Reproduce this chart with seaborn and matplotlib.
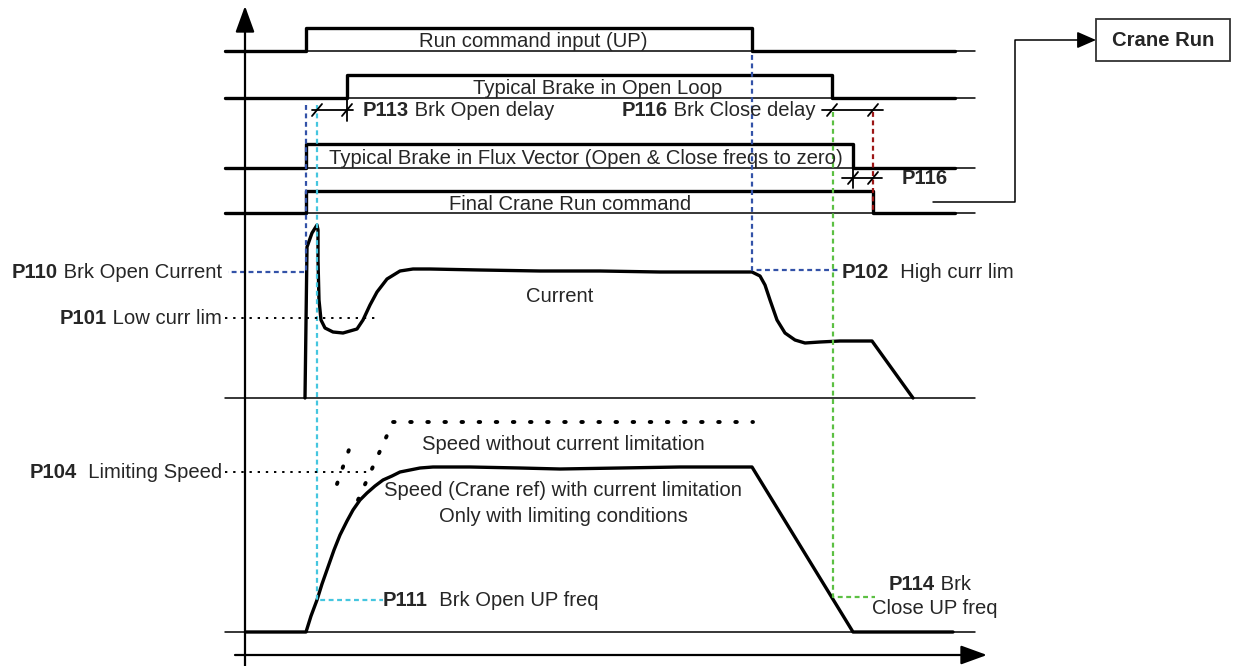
import numpy as np
import pandas as pd
import matplotlib
matplotlib.use("Agg")
import matplotlib.pyplot as plt
import seaborn as sns

# ---- data (time axis in drawing units, left -> right) ----
signal_names = [
    "Run command input (UP)",
    "Typical Brake in Open Loop",
    "Typical Brake in Flux Vector (Open & Close freqs to zero)",
    "Final Crane Run command",
]
signal_rise = [306, 347, 306, 306]
signal_fall = [752, 832, 853, 873]

current_t = [305, 307, 312, 317, 318, 318, 319, 321, 325, 333, 343, 357, 363, 370, 377,
             387, 400, 413, 430, 480, 540, 600, 660, 720, 752, 760, 765, 770, 777,
             785, 795, 805, 820, 840, 872, 913]
current_v = [398, 247, 233, 225, 230, 260, 300, 320, 328, 332, 333, 329, 320, 305, 292,
             279, 271, 269, 269, 270, 271, 271, 272, 272, 272, 276, 285, 300, 320,
             333, 340, 343, 342, 341, 341, 398]

speed_t = [246, 306, 311, 317, 322, 328, 334, 340, 347, 353, 360, 367, 375, 383, 392,
           400, 410, 420, 433, 470, 520, 560, 620, 680, 752, 853, 953]
speed_v = [632, 632, 616, 600, 584, 567, 550, 535, 521, 510, 500, 493, 486, 480, 476,
           472, 470, 468, 467, 467, 468, 469, 468, 467, 467, 632, 632]

free_speed_t = [358, 393, 753]
free_speed_v = [500, 422, 422]
limit_ramp_t = [337, 352]
limit_ramp_v = [484, 441]

# ---- figure ----
sns.set_theme(style="white")
plt.rcParams["font.family"] = ["Liberation Sans", "DejaVu Sans"]
plt.rcParams["font.size"] = 14.6

fig = plt.figure(figsize=(12.35, 6.66), dpi=100)
ax = fig.add_axes([0, 0, 1, 1])
ax.set_xlim(0, 1235)
ax.set_ylim(666, 0)
ax.axis("off")
renderer = fig.canvas.get_renderer()

BLUE = "#3352a8"
CYAN = "#45c6df"
GREEN = "#5cc043"
RED = "#9c1616"

row_base = [51, 98, 168, 213]
row_high = [28, 75, 144, 191]
text_x = [533, 598, 586, 570]

# digital signals
for i, name in enumerate(signal_names):
    b, h = row_base[i], row_high[i]
    ax.plot([225, 975], [b, b], color="black", lw=1.1)
    step = pd.DataFrame({
        "t": [225, signal_rise[i], signal_rise[i], signal_fall[i], signal_fall[i], 955],
        "v": [b, b, h, h, b, b],
    })
    sns.lineplot(data=step, x="t", y="v", sort=False, estimator=None,
                 color="black", lw=2.4, ax=ax)
    ax.text(text_x[i], (b + h) / 2 + 2, name, ha="center", va="center")

# brake edge extensions below baselines
ax.plot([347, 347], [98, 121], color="black", lw=1.3)
ax.plot([853, 853], [168, 188], color="black", lw=1.3)

# analog panels baselines
ax.plot([225, 975], [398, 398], color="black", lw=1.1)
ax.plot([225, 975], [632, 632], color="black", lw=1.1)

sns.lineplot(x=current_t, y=current_v, sort=False, estimator=None,
             color="black", lw=2.4, ax=ax)
sns.lineplot(x=speed_t, y=speed_v, sort=False, estimator=None,
             color="black", lw=2.4, ax=ax)
ax.plot(free_speed_t, free_speed_v, color="black", lw=2.8,
        linestyle=(0, (0.4, 4.0)), dash_capstyle="round")
ax.plot(limit_ramp_t, limit_ramp_v, color="black", lw=2.8,
        linestyle=(0, (0.4, 4.0)), dash_capstyle="round")

# axes arrows
ax.annotate("", xy=(245, 6), xytext=(245, 666),
            arrowprops=dict(arrowstyle="-|>,head_length=1.1,head_width=0.4",
                            color="black", lw=1.6, shrinkA=0, shrinkB=0))
ax.annotate("", xy=(987, 655), xytext=(235, 655),
            arrowprops=dict(arrowstyle="-|>,head_length=1.1,head_width=0.4",
                            color="black", lw=1.6, shrinkA=0, shrinkB=0))

# reference dashed lines
dash = (0, (2.2, 1.6))
ax.plot([306, 306, 228], [105, 272, 272], color=BLUE, lw=1.6, linestyle=dash)
ax.plot([317, 317, 383], [105, 600, 600], color=CYAN, lw=1.6, linestyle=dash)
ax.plot([752, 752, 840], [55, 270, 270], color=BLUE, lw=1.6, linestyle=dash)
ax.plot([833, 833, 875], [112, 597, 597], color=GREEN, lw=1.6, linestyle=dash)
ax.plot([873, 873], [112, 213], color=RED, lw=1.6, linestyle=dash)

dot = (0, (1.2, 3))
ax.plot([225, 375], [318, 318], color="black", lw=1.4, linestyle=dot)
ax.plot([225, 368], [472, 472], color="black", lw=1.4, linestyle=dot)

# delay markers
def delay(x0, x1, y, marks):
    ax.plot([x0, x1], [y, y], color="black", lw=1.3)
    for m in marks:
        ax.plot([m - 5, m + 5], [y + 6, y - 6], color="black", lw=1.3)

delay(312, 353, 110, [317, 347])
delay(822, 883, 110, [832, 873])
delay(842, 882, 178, [853, 873])

# labels with bold parameter code
def label_left(x, y, bold, normal):
    tb = ax.text(x, y, bold, weight="bold", ha="left", va="center")
    w = tb.get_window_extent(renderer).width
    ax.text(x + w, y, normal, ha="left", va="center")

def label_right(x, y, bold, normal):
    tn = ax.text(x, y, normal, ha="right", va="center")
    w = tn.get_window_extent(renderer).width
    ax.text(x - w, y, bold, weight="bold", ha="right", va="center")

label_right(222, 273, "P110", " Brk Open Current")
label_right(222, 319, "P101", " Low curr lim")
label_right(222, 473, "P104", "  Limiting Speed")
label_left(363, 111, "P113", " Brk Open delay")
label_left(622, 111, "P116", " Brk Close delay")
ax.text(902, 179, "P116", weight="bold", ha="left", va="center")
label_left(842, 273, "P102", "  High curr lim")
label_left(383, 601, "P111", "  Brk Open UP freq")
label_left(889, 584, "P114", " Brk")
ax.text(872, 609, "Close UP freq", ha="left", va="center")

ax.text(560, 297, "Current", ha="center", va="center")
ax.text(563, 444, "Speed without current limitation", ha="center", va="center")
ax.text(563, 491, "Speed (Crane ref) with current limitation", ha="center", va="center")
ax.text(563, 516, "Only with limiting conditions", ha="center", va="center")

# Crane Run output box
ax.plot([933, 1015, 1015, 1085], [202, 202, 40, 40], color="black", lw=1.1)
ax.annotate("", xy=(1096, 40), xytext=(1080, 40),
            arrowprops=dict(arrowstyle="-|>,head_length=0.8,head_width=0.35",
                            color="black", lw=1.1, shrinkA=0, shrinkB=0))
ax.add_patch(plt.Rectangle((1096, 19), 134, 42, fill=False, ec="#333333", lw=1.3))
ax.text(1163, 41, "Crane Run", weight="bold", ha="center", va="center")

fig.savefig("out.png", dpi=100)
